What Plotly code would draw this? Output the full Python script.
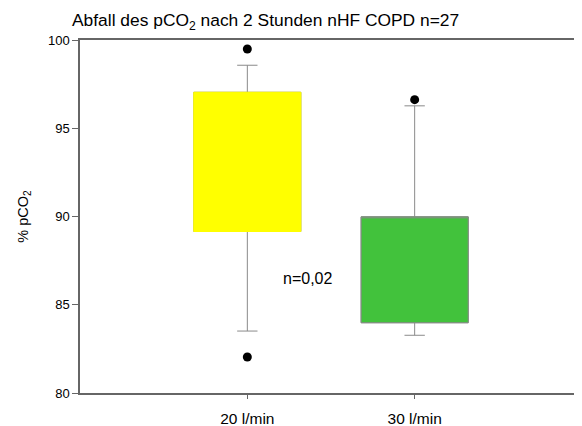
import plotly.graph_objects as go

categories = ["20 l/min", "30 l/min"]
q1 = [89.15, 83.98]
median = [97.0, 87.16]
q3 = [97.04, 89.98]
lowerfence = [83.51, 83.27]
upperfence = [98.57, 96.27]
outlier_x = ["20 l/min", "20 l/min", "30 l/min"]
outlier_y = [99.49, 82.04, 96.62]
fill_colors = ["#ffff00", "#42c23c"]
cover_line = ["#ffff00", "#8a8a8a"]
yticks = [80, 85, 90, 95, 100]

fig = go.Figure()
for i, c in enumerate(categories):
    fig.add_trace(go.Box(
        x=[c], q1=[q1[i]], median=[median[i]], q3=[q3[i]],
        lowerfence=[lowerfence[i]], upperfence=[upperfence[i]],
        fillcolor=fill_colors[i], line=dict(color="#8a8a8a", width=1),
        whiskerwidth=0.19, width=0.64, boxpoints=False, showlegend=False,
        hoverinfo="skip"))
    fig.add_trace(go.Box(
        x=[c], q1=[q1[i]], median=[q3[i]], q3=[q3[i]],
        lowerfence=[q1[i]], upperfence=[q3[i]],
        fillcolor=fill_colors[i], line=dict(color=cover_line[i], width=1),
        whiskerwidth=0, width=0.64, boxpoints=False, showlegend=False,
        hoverinfo="skip"))

fig.add_trace(go.Scatter(
    x=outlier_x, y=outlier_y, mode="markers",
    marker=dict(color="black", size=9), showlegend=False, hoverinfo="skip"))

fig.add_annotation(x=0.36, y=86.5, text="n=0,02", showarrow=False,
                   font=dict(size=16, color="black"))

fig.update_layout(
    width=574, height=418,
    margin=dict(l=72, r=0, t=32, b=33, autoexpand=False),
    paper_bgcolor="white", plot_bgcolor="white",
    font=dict(family="Liberation Sans, Arial, sans-serif", color="black"),
    boxmode="overlay",
    title=dict(text="Abfall des pCO<sub>2</sub> nach 2 Stunden nHF COPD n=27",
               x=64/574, xanchor="left", y=1 - 12/418, yanchor="middle",
               font=dict(size=17.4, color="black")),
    xaxis=dict(type="category", categoryarray=categories, range=[-1.0, 2.0],
               showline=True, linecolor="#666", linewidth=1.5, mirror=True,
               ticks="outside", ticklen=4, tickcolor="#666",
               ticklabelstandoff=7, automargin=False,
               showgrid=False, zeroline=False, tickfont=dict(size=15.5)),
    yaxis=dict(range=[80, 100], tickvals=yticks, showline=True, linecolor="#666",
               linewidth=1.5, ticks="outside", ticklen=6, tickcolor="#666",
               showgrid=False, zeroline=False, tickfont=dict(size=13),
               automargin=False,
               title=dict(text="% pCO<sub>2</sub>", font=dict(size=14.5), standoff=16)),
)

fig.write_html("out.html")
